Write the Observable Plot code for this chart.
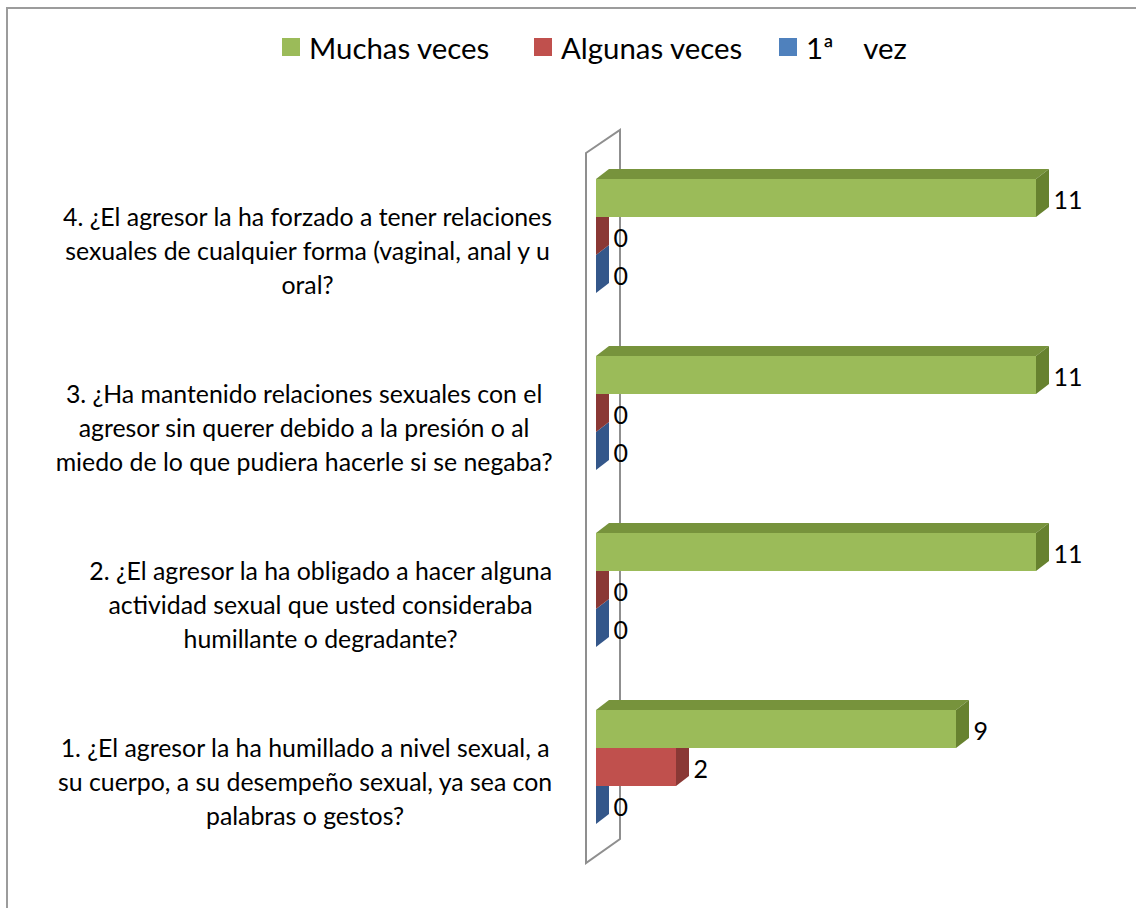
<!DOCTYPE html>
<html><head><meta charset="utf-8">
<script src="https://cdn.jsdelivr.net/npm/d3@7"></script>
<script src="https://cdn.jsdelivr.net/npm/@observablehq/plot@0.6"></script>
<style>
html,body{margin:0;padding:0;background:#fff;overflow:hidden}
#wrap{position:relative;width:1136px;height:908px;overflow:hidden;font-family:Lato,sans-serif;background:#fff}
#border{position:absolute;left:6px;top:7px;width:1200px;height:1000px;border:2px solid #9c9c9c;box-sizing:border-box;pointer-events:none}
#legendRow{position:relative;height:90px}
#chart svg{display:block}
</style></head><body>
<div id="wrap"><div id="border"></div><div id="legendRow"></div><div id="chart"></div></div>
<script>
// ---- data ----
const questionLines = [
  ["4. ¿El agresor la ha forzado a tener relaciones", "sexuales de cualquier forma (vaginal, anal y u", "oral?"],
  ["3. ¿Ha mantenido relaciones sexuales con el", "agresor sin querer debido a la presión o al", "miedo de lo que pudiera hacerle si se negaba?"],
  ["2. ¿El agresor la ha obligado a hacer alguna", "actividad sexual que usted consideraba", "humillante o degradante?"],
  ["1. ¿El agresor la ha humillado a nivel sexual, a", "su cuerpo, a su desempeño sexual, ya sea con", "palabras o gestos?"]
];
const questions = questionLines.map(l => l.join(" "));
const series = ["Muchas veces", "Algunas veces", "1ª    vez"];
const muchasVeces = [11, 11, 11, 9];
const algunasVeces = [0, 0, 0, 2];
const primeraVez = [0, 0, 0, 0];

// ---- styles ----
const frontColors = ["#9BBB59", "#C0504D", "#4F81BD"];
const topColors = ["#77933C", "#9E3D3A", "#3E6AA0"];
const sideColors = ["#67822F", "#8A3835", "#34578A"];

// ---- font sizing (Lato stands in for Calibri) ----
const ctx = document.createElement("canvas").getContext("2d");
function textW(s, size) { ctx.font = `${size}px Lato`; return ctx.measureText(s).width; }
const catFont = 26.67 * 490 / textW(questionLines[0][0], 26.67);
const legFont = 32 * 181 / textW("Muchas veces", 32);
const valFont = 25;

// ---- table ----
const valuesBySeries = [muchasVeces, algunasVeces, primeraVez];
const data = [];
questions.forEach((q, i) => {
  for (let s = series.length - 1; s >= 0; --s) {
    data.push({question: q, series: series[s], value: valuesBySeries[s][i]});
  }
});

const marginLeft = 596, marginTop = 88, marginBottom = 83, marginRight = 100;
const DX = 13, DY = -10;
const ns = "http://www.w3.org/2000/svg";

function bar3d(index, scales, values, dimensions, context, next) {
  const g = next(index, scales, values, dimensions, context);
  const rects = Array.from(g.querySelectorAll("rect"));
  rects.forEach((r, k) => {
    const d = data[index[k]];
    const si = series.indexOf(d.series);
    const x = +r.getAttribute("x"), y = +r.getAttribute("y");
    const w = +r.getAttribute("width"), h = +r.getAttribute("height");
    const top = document.createElementNS(ns, "polygon");
    top.setAttribute("points", `${x},${y} ${x+w},${y} ${x+w+DX},${y+DY} ${x+DX},${y+DY}`);
    top.setAttribute("fill", topColors[si]);
    const side = document.createElementNS(ns, "polygon");
    side.setAttribute("points", `${x+w},${y} ${x+w+DX},${y+DY} ${x+w+DX},${y+h+DY} ${x+w},${y+h}`);
    side.setAttribute("fill", sideColors[si]);
    r.parentNode.insertBefore(top, r);
    r.parentNode.insertBefore(side, r);
  });
  return g;
}

function wallRender(index, scales, values, dims) {
  const x0 = dims.marginLeft;
  const t = dims.marginTop, b = dims.height - dims.marginBottom;
  const g = d3.create("svg:g");
  g.append("path")
    .attr("d", `M${x0-10},${t-25}L${x0+24},${t-48}L${x0+24},${b+14}L${x0-10},${b+38}Z`)
    .attr("fill", "none").attr("stroke", "#8f8f8f").attr("stroke-width", 2);
  return g.node();
}

const labelRight = marginLeft - 44;
const catMarks = questions.map((q, i) => {
  const lines = questionLines[i];
  const w = Math.max(...lines.map(l => textW(l, catFont)));
  const cx = labelRight - w / 2;
  return Plot.text([{question: q, label: lines.join("\n")}], {
    fy: "question", text: "label", frameAnchor: "left", textAnchor: "middle", lineAnchor: "middle",
    dx: cx - marginLeft, dy: 13, fontSize: catFont, lineHeight: 34 / catFont, fill: "#000"
  });
});

const chart = Plot.plot({
  width: 1136, height: 818,
  marginLeft, marginRight, marginTop, marginBottom,
  style: {fontFamily: "Lato, sans-serif", background: "transparent", overflow: "visible"},
  x: {domain: [0, 11], axis: null},
  y: {domain: series, axis: null, padding: 0},
  fy: {domain: questions, axis: null, paddingInner: 0.345, paddingOuter: 0},
  color: {domain: series, range: frontColors},
  marks: [
    Plot.frame({facet: "super", render: wallRender}),
    Plot.barX(data, {x: "value", y: "series", fy: "question", fill: "series", render: bar3d}),
    Plot.text(data, {x: "value", y: "series", fy: "question", text: d => String(d.value),
      textAnchor: "start", dx: 17, dy: 2, fontSize: valFont, fill: "#000"}),
    ...catMarks
  ]
});
document.getElementById("chart").appendChild(chart);

// ---- legend ----
const leg = Plot.legend({legend: "swatches", color: {domain: series, range: frontColors}, swatchSize: 18, className: "lg"});
leg.style.position = "absolute";
leg.style.left = "282px";
leg.style.top = "27px";
leg.style.height = "40px";
leg.style.margin = "0";
leg.style.display = "flex";
leg.style.alignItems = "center";
leg.style.flexWrap = "nowrap";
leg.style.fontSize = legFont + "px";
leg.style.fontFamily = "Lato, sans-serif";
leg.style.color = "#000";
const items = Array.from(leg.children).filter(el => el.tagName !== "STYLE");
const itemWidths = [252, 245, null];
items.forEach((el, i) => {
  el.style.whiteSpace = "pre";
  el.style.marginRight = "0";
  el.style.flexShrink = "0";
  if (itemWidths[i]) el.style.width = itemWidths[i] + "px";
  const sw = el.querySelector("svg");
  if (sw) sw.style.marginRight = "9px";
});
document.getElementById("legendRow").appendChild(leg);
</script>
</body></html>
